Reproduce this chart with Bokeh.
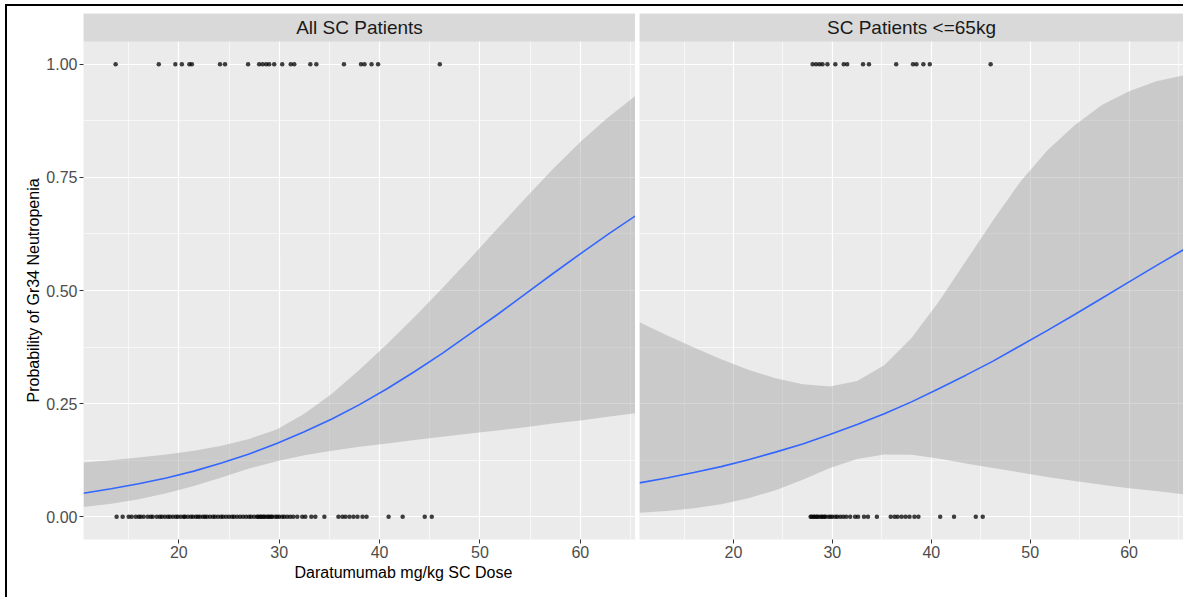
from bokeh.plotting import figure
from bokeh.models import FixedTicker, BoxAnnotation, Label, Range1d, NumeralTickFormatter, Title
from bokeh.layouts import row
from bokeh.embed import file_html
from bokeh.resources import INLINE

# ---------------- data ----------------
panel_titles = ["All SC Patients", "SC Patients <=65kg"]
x_title = "Daratumumab mg/kg SC Dose"
y_title = "Probability of Gr34 Neutropenia"
x_ticks = [20, 30, 40, 50, 60]
x_minor = [15, 25, 35, 45, 55, 65]
y_ticks = [0, 0.25, 0.5, 0.75, 1.0]
y_minor = [0.125, 0.375, 0.625, 0.875]
low_weight_min_dose = 27.7  # 1800 mg / 65 kg

# doses of patients with a Gr3/4 neutropenia event (y = 1)
dose_event = [13.7, 18.0, 19.65, 20.3, 21.05, 21.3, 24.1, 24.6, 26.9,
              28.0, 28.35, 28.7, 29.0, 29.5, 30.3, 31.15, 31.5, 33.1, 33.7,
              36.45, 38.15, 38.5, 39.2, 39.85, 46.0]
# doses of patients without event (y = 0)
dose_no_event = [13.8, 14.4, 15.0, 15.3, 15.7, 16.0, 16.2, 16.5, 16.9, 17.2,
                 17.4, 17.8, 18.1, 18.3, 18.6, 18.9, 19.1, 19.4, 19.7, 19.9,
                 20.2, 20.5, 20.6, 20.9, 21.2, 21.4, 21.7, 21.9, 22.1, 22.4,
                 22.6, 22.8, 23.1, 23.4, 23.6, 23.9, 24.2, 24.4, 24.7, 25.0,
                 25.3, 25.5, 25.8, 26.1, 26.4, 26.7, 27.0, 27.2, 27.5,
                 27.8, 27.9, 28.1, 28.2, 28.4, 28.5, 28.7, 28.9, 29.0, 29.2,
                 29.3, 29.6, 29.8, 30.0, 30.3, 30.5, 30.8, 31.1, 31.4, 31.8,
                 32.3, 32.6, 33.2, 33.6, 34.5, 35.9, 36.3, 36.6, 37.0, 37.4,
                 37.8, 38.3, 38.7, 40.9, 42.3, 44.5, 45.2]

# fitted probability curve and confidence band
fit_dose = [10.5, 13.25, 16.0, 18.75, 21.5, 24.25, 27.0, 29.75, 32.5, 35.25, 38.0,
            40.75, 43.5, 46.25, 49.0, 51.75, 54.5, 57.25, 60.0, 62.75, 65.5]
fit_all = [0.052, 0.062, 0.073, 0.086, 0.101, 0.119, 0.139, 0.162, 0.188, 0.216, 0.248,
           0.283, 0.321, 0.361, 0.404, 0.447, 0.492, 0.537, 0.581, 0.624, 0.665]
lo_all = [0.022, 0.029, 0.039, 0.052, 0.068, 0.087, 0.107, 0.123, 0.136, 0.146, 0.155,
          0.162, 0.170, 0.177, 0.184, 0.191, 0.198, 0.206, 0.213, 0.221, 0.229]
hi_all = [0.120, 0.125, 0.131, 0.138, 0.146, 0.157, 0.172, 0.193, 0.228, 0.272, 0.325,
          0.382, 0.442, 0.505, 0.570, 0.637, 0.703, 0.768, 0.828, 0.882, 0.930]
fit_low = [0.075, 0.086, 0.098, 0.111, 0.126, 0.143, 0.161, 0.182, 0.204, 0.228, 0.254,
           0.283, 0.313, 0.344, 0.378, 0.412, 0.447, 0.483, 0.519, 0.555, 0.590]
lo_low = [0.009, 0.013, 0.019, 0.028, 0.041, 0.059, 0.082, 0.108, 0.128, 0.138, 0.137,
          0.129, 0.118, 0.108, 0.098, 0.088, 0.079, 0.071, 0.063, 0.057, 0.050]
hi_low = [0.430, 0.401, 0.374, 0.348, 0.325, 0.306, 0.293, 0.288, 0.300, 0.335, 0.395,
          0.475, 0.565, 0.655, 0.740, 0.810, 0.865, 0.910, 0.940, 0.962, 0.975]

# ---------------- style / layout ----------------
FONT = "Liberation Sans"
X0, X1 = 10.5, 65.5
Y0, YP = -0.05, 1.05
FRAME_W = 552
PANEL_H = 526 - 28
STRIP_H = 28
Y1 = YP + STRIP_H * (YP - Y0) / PANEL_H


def make_panel(idx, fit, lo, hi, ev, ne, show_y, min_left, frame_w):
    p = figure(frame_width=frame_w, frame_height=PANEL_H + STRIP_H,
               x_range=Range1d(X0, X1), y_range=Range1d(Y0, Y1),
               output_backend="svg", toolbar_location=None, title=None,
               min_border_left=min_left, min_border_right=0,
               min_border_top=7, min_border_bottom=58)
    p.background_fill_color = "#EBEBEB"
    p.border_fill_color = "white"
    p.outline_line_color = None

    xt = FixedTicker(ticks=x_ticks, minor_ticks=x_minor)
    yt = FixedTicker(ticks=y_ticks, minor_ticks=y_minor)
    p.xaxis.ticker = xt
    p.xgrid.ticker = xt
    p.yaxis.ticker = yt
    p.ygrid.ticker = yt
    for g in (p.xgrid, p.ygrid):
        g.grid_line_color = "white"
        g.grid_line_width = 1.2
        g.minor_grid_line_color = "white"
        g.minor_grid_line_width = 0.6
    for ax in (p.xaxis, p.yaxis):
        ax.axis_line_color = None
        ax.major_tick_line_color = "#333333"
        ax.major_tick_out = 4
        ax.major_tick_in = 0
        ax.minor_tick_line_color = None
        ax.major_label_text_font = FONT
        ax.major_label_text_font_size = "16px"
        ax.major_label_text_color = "#4D4D4D"
        ax.major_label_standoff = 2
    p.yaxis.formatter = NumeralTickFormatter(format="0.00")
    if not show_y:
        p.yaxis.visible = False

    # data points
    p.scatter(ev, [1] * len(ev), size=4.5, fill_color="black", fill_alpha=0.75, line_color=None)
    p.scatter(ne, [0] * len(ne), size=4.5, fill_color="black", fill_alpha=0.75, line_color=None)
    # confidence band + fit
    p.varea(x=fit_dose, y1=lo, y2=hi, fill_color="#999999", fill_alpha=0.4)
    p.line(fit_dose, fit, line_color="#3366FF", line_width=1.6)

    # facet strip
    p.add_layout(BoxAnnotation(bottom=YP, fill_color="#D9D9D9", fill_alpha=1.0,
                               line_color=None, level="overlay"))
    p.add_layout(Label(x=(X0 + X1) / 2, y=(YP + Y1) / 2, text=panel_titles[idx],
                       text_align="center", text_baseline="middle",
                       text_font=FONT, text_font_size="19px", text_color="#1A1A1A",
                       level="overlay"))
    return p


ev_low = [d for d in dose_event if d >= low_weight_min_dose]
ne_low = [d for d in dose_no_event if d >= low_weight_min_dose]

p1 = make_panel(0, fit_all, lo_all, hi_all, dose_event, dose_no_event, True, 76, FRAME_W)
p2 = make_panel(1, fit_low, lo_low, hi_low, ev_low, ne_low, False, 4, 544)

# axis titles
p1.add_layout(Title(text=x_title, align="left", offset=211, standoff=2,
                    text_font=FONT, text_font_size="16px", text_font_style="normal",
                    text_color="black"), "below")
p1.add_layout(Title(text=y_title, align="left", offset=137, standoff=4,
                    text_font=FONT, text_font_size="16px", text_font_style="normal",
                    text_color="black"), "left")

layout = row(p1, p2, styles={"margin-left": "5px", "margin-top": "4px",
                             "border-left": "2px solid black", "border-top": "2px solid black"})

open("out.html", "w").write(file_html(layout, INLINE))
